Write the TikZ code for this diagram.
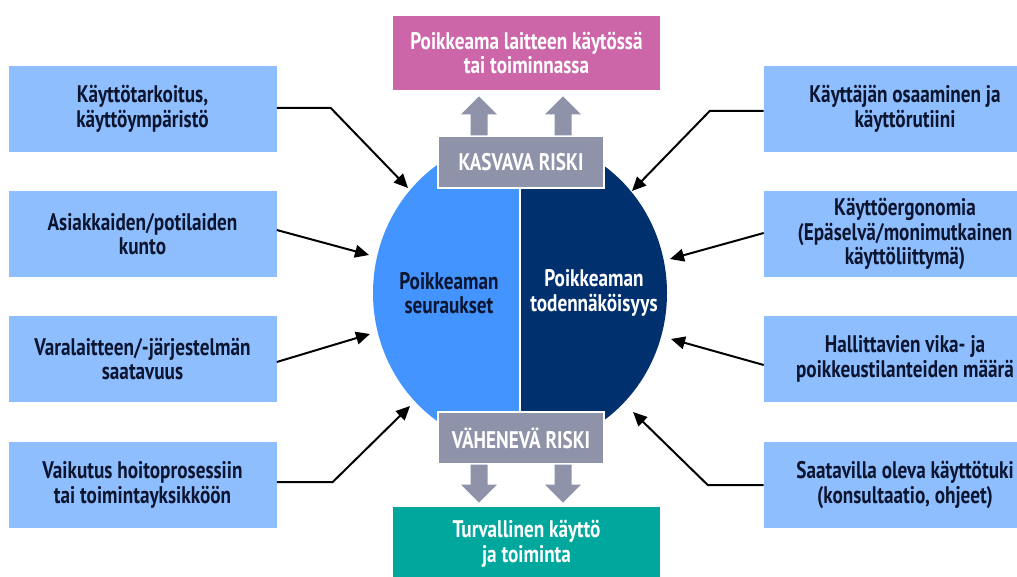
\documentclass[tikz,border=0pt]{standalone}
\usepackage{fontspec}
\setmainfont[FakeStretch=0.8]{PT Sans}
\usetikzlibrary{arrows.meta,calc,positioning}
\definecolor{sidefill}{HTML}{8FBEFF}
\definecolor{darktext}{HTML}{0B1530}
\definecolor{pinkfill}{HTML}{CC66A8}
\definecolor{tealfill}{HTML}{00A79D}
\definecolor{riskgray}{HTML}{8F93AA}
\definecolor{lefthalf}{HTML}{4394FF}
\definecolor{righthalf}{HTML}{00306E}
\tikzset{
  boxtext/.style={font=\bfseries\fontsize{18}{18.5}\selectfont, align=center, inner sep=0pt},
  sidebox/.style={boxtext, fill=sidefill, text=darktext, minimum width=201pt, minimum height=64.5pt},
  rsidebox/.style={sidebox, minimum width=211.5pt},
  endbox/.style={boxtext, text=white, minimum width=200.25pt},
  riskbox/.style={boxtext, fill=riskgray, draw=white, line width=1.1pt, text=white,
    minimum width=124.5pt, minimum height=39pt},
  conn/.style={line width=1.5pt, -{Triangle[length=10.5pt,width=9.5pt]}}
}
\begin{document}
\begin{tikzpicture}[x=0.75pt,y=-0.75pt]
    \useasboundingbox (0,0) rectangle (1017,577);

    % ellipse in two halves
    \coordinate (c) at (520,293);
    \fill[lefthalf] (520,138) arc[start angle=-90,end angle=-270,x radius=147,y radius=155] -- cycle;
    \fill[righthalf] (520,138) arc[start angle=-90,end angle=90,x radius=147,y radius=155] -- cycle;
    \draw[white, line width=2.2pt] (520,136) -- (520,465);
    \node[boxtext, text=darktext] (seur) at (449,293) {Poikkeaman\\seuraukset};
    \node[boxtext, text=white] (tod) at (594,293) {Poikkeaman\\todennäköisyys};

    % top and bottom
    \node[endbox, fill=pinkfill, minimum height=55.5pt] (dev) at (526.5,53) {Poikkeama laitteen käytössä\\tai toiminnassa};
    \node[endbox, fill=tealfill, minimum height=55.5pt] (safe) at (526.5,544) {Turvallinen käyttö\\ja toiminta};
    \node[riskbox] (up) at (521,162) {KASVAVA RISKI};
    \node[riskbox] (down) at (521,438) {VÄHENEVÄ RISKI};

    \foreach \dx in {-42,42} {
      \fill[riskgray] ($(up.north)+(\dx-8.5,0)$) -- ++(0,-21) -- ++(-9.5,0) -- ++(18,-18)
        -- ++(18,18) -- ++(-9.5,0) -- ++(0,21) -- cycle;
      \fill[riskgray] ($(down.south)+(\dx-8.5,0)$) -- ++(0,20) -- ++(-9.5,0) -- ++(18,18)
        -- ++(18,-18) -- ++(-9.5,0) -- ++(0,-20) -- cycle;
    }

    % left factors
    \node[sidebox] (l1) at (142.5,109) {Käyttötarkoitus,\\käyttöympäristö};
    \node[sidebox] (l2) at (142.5,234) {Asiakkaiden/potilaiden\\kunto};
    \node[sidebox] (l3) at (142.5,359) {Varalaitteen/-järjestelmän\\saatavuus};
    \node[sidebox] (l4) at (142.5,485) {Vaikutus hoitoprosessiin\\tai toimintayksikköön};

    % right factors
    \node[rsidebox] (r1) at (905,109) {Käyttäjän osaaminen ja\\käyttörutiini};
    \node[rsidebox] (r2) at (905,234) {Käyttöergonomia\\(Epäselvä/monimutkainen\\käyttöliittymä)};
    \node[rsidebox] (r3) at (905,359) {Hallittavien vika- ja\\poikkeustilanteiden määrä};
    \node[rsidebox] (r4) at (905,485) {Saatavilla oleva käyttötuki\\(konsultaatio, ohjeet)};

    \coordinate (tl1) at (408,188);
    \coordinate (tl2) at (369,255);
    \coordinate (tl3) at (370,334);
    \coordinate (tl4) at (410,406);
    \coordinate (tr1) at (632,191);
    \coordinate (tr2) at (670,259);
    \coordinate (tr3) at (671,339);
    \coordinate (tr4) at (633,412);

    \draw[conn] (l1.east |- 0,108) -- ++(54,0) -- (tl1);
    \draw[conn] (l2.east |- 0,230) -- (tl2);
    \draw[conn] (l3.east |- 0,362) -- (tl3);
    \draw[conn] (l4.east |- 0,482) -- ++(56,0) -- (tl4);
    \draw[conn] (r1.west |- 0,111) -- ++(-54,0) -- (tr1);
    \draw[conn] (r2.west |- 0,233) -- (tr2);
    \draw[conn] (r3.west |- 0,365) -- (tr3);
    \draw[conn] (r4.west |- 0,485) -- ++(-56,0) -- (tr4);
\end{tikzpicture}
\end{document}
